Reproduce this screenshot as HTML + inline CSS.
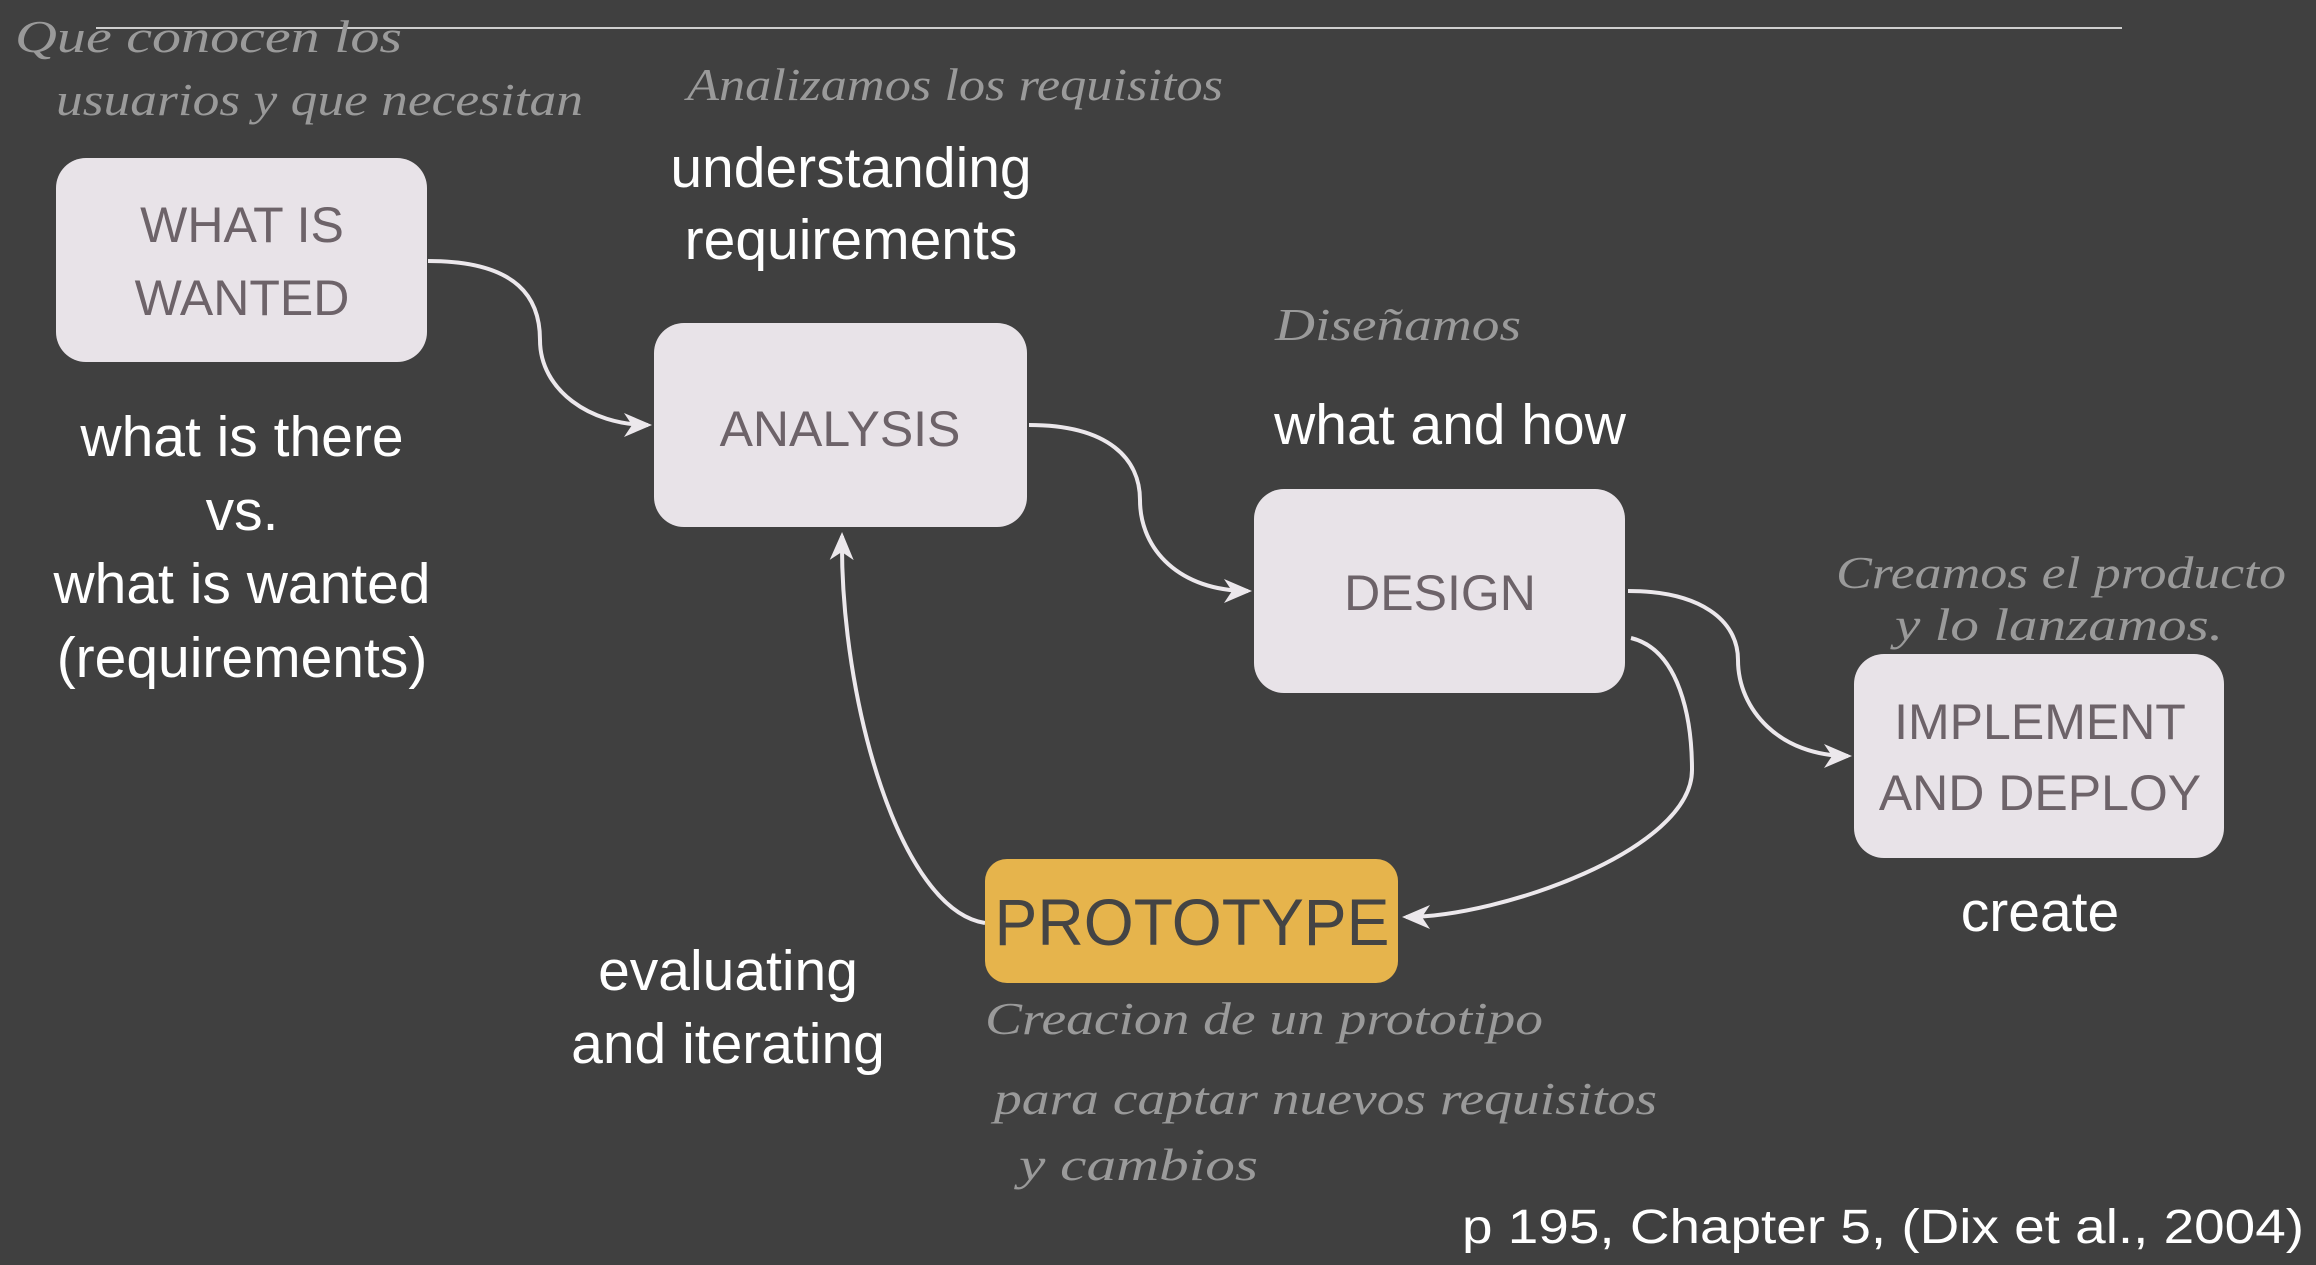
<!DOCTYPE html>
<html><head><meta charset="utf-8"><style>
html,body{margin:0;padding:0;background:#404040;}
svg{display:block;}
.box{fill:#e8e3e8;}
.bt{font-family:"Liberation Sans",sans-serif;font-size:50px;fill:#6d6369;text-anchor:middle;}
.wt{font-family:"Liberation Sans",sans-serif;font-size:57px;fill:#ffffff;text-anchor:middle;}
.hw{font-family:"Liberation Serif",serif;font-style:italic;font-size:46px;fill:#9a9a9a;}
.c{fill:none;stroke:#ece8ec;stroke-width:4;}
</style></head><body>
<svg width="2316" height="1265" viewBox="0 0 2316 1265" xmlns="http://www.w3.org/2000/svg">
<defs><marker id="a" markerWidth="8" markerHeight="8" refX="6" refY="4" orient="auto" markerUnits="strokeWidth"><path d="M0,1 L7,4 L0,7 L2,4 Z" fill="#ece8ec"/></marker></defs>
<rect width="2316" height="1265" fill="#404040"/>
<line x1="96" y1="28" x2="2122" y2="28" stroke="#cfcfcf" stroke-width="2"/>

<path class="c" d="M428,261 C520,261 540,300 540,340 C540,390 590,425 648,425" marker-end="url(#a)"/>
<path class="c" d="M1029,425 C1110,425 1140,460 1140,500 C1140,550 1180,591 1248,591" marker-end="url(#a)"/>
<path class="c" d="M1628,591 C1700,591 1738,620 1738,660 C1738,710 1780,756 1848,756" marker-end="url(#a)"/>
<path class="c" d="M1631,638 C1680,650 1692,720 1692,770 C1692,850 1500,917 1406,917" marker-end="url(#a)"/>
<path class="c" d="M985,923 C900,910 840,700 842,536" marker-end="url(#a)"/>

<rect class="box" x="56" y="158" width="371" height="204" rx="30"/>
<rect class="box" x="654" y="323" width="373" height="204" rx="30"/>
<rect class="box" x="1254" y="489" width="371" height="204" rx="30"/>
<rect class="box" x="1854" y="654" width="370" height="204" rx="30"/>
<rect x="985" y="859" width="413" height="124" rx="22" fill="#e6b44c"/>

<text class="bt" x="242" y="242">WHAT IS</text>
<text class="bt" x="242" y="315">WANTED</text>
<text class="bt" x="840" y="446">ANALYSIS</text>
<text class="bt" x="1440" y="610">DESIGN</text>
<text class="bt" x="2040" y="739">IMPLEMENT</text>
<text class="bt" x="2040" y="810">AND DEPLOY</text>
<text x="1192" y="945" font-family="Liberation Sans,sans-serif" font-size="66" fill="#444" text-anchor="middle" textLength="395" lengthAdjust="spacingAndGlyphs">PROTOTYPE</text>

<text class="wt" x="242" y="456">what is there</text>
<text class="wt" x="242" y="530">vs.</text>
<text class="wt" x="242" y="603">what is wanted</text>
<text class="wt" x="242" y="677">(requirements)</text>
<text class="wt" x="851" y="187">understanding</text>
<text class="wt" x="851" y="259">requirements</text>
<text class="wt" x="1450" y="444">what and how</text>
<text class="wt" x="2040" y="931">create</text>
<text class="wt" x="728" y="990">evaluating</text>
<text class="wt" x="728" y="1063">and iterating</text>

<text x="2304" y="1243" font-family="Liberation Sans,sans-serif" font-size="48" fill="#fff" text-anchor="end" textLength="842" lengthAdjust="spacingAndGlyphs">p 195, Chapter 5, (Dix et al., 2004)</text>

<text class="hw" x="15" y="52" textLength="387" lengthAdjust="spacingAndGlyphs">Que conocen los</text>
<text class="hw" x="56" y="115" textLength="527" lengthAdjust="spacingAndGlyphs">usuarios y que necesitan</text>
<text class="hw" x="687" y="100" textLength="536" lengthAdjust="spacingAndGlyphs">Analizamos los requisitos</text>
<text class="hw" x="1275" y="340" textLength="246" lengthAdjust="spacingAndGlyphs">Diseñamos</text>
<text class="hw" x="1836" y="588" textLength="450" lengthAdjust="spacingAndGlyphs">Creamos el producto</text>
<text class="hw" x="1895" y="640" textLength="328" lengthAdjust="spacingAndGlyphs">y lo lanzamos.</text>
<text class="hw" x="985" y="1034" textLength="558" lengthAdjust="spacingAndGlyphs">Creacion de un prototipo</text>
<text class="hw" x="994" y="1114" textLength="663" lengthAdjust="spacingAndGlyphs">para captar nuevos requisitos</text>
<text class="hw" x="1019" y="1180" textLength="239" lengthAdjust="spacingAndGlyphs">y cambios</text>
</svg>
</body></html>
